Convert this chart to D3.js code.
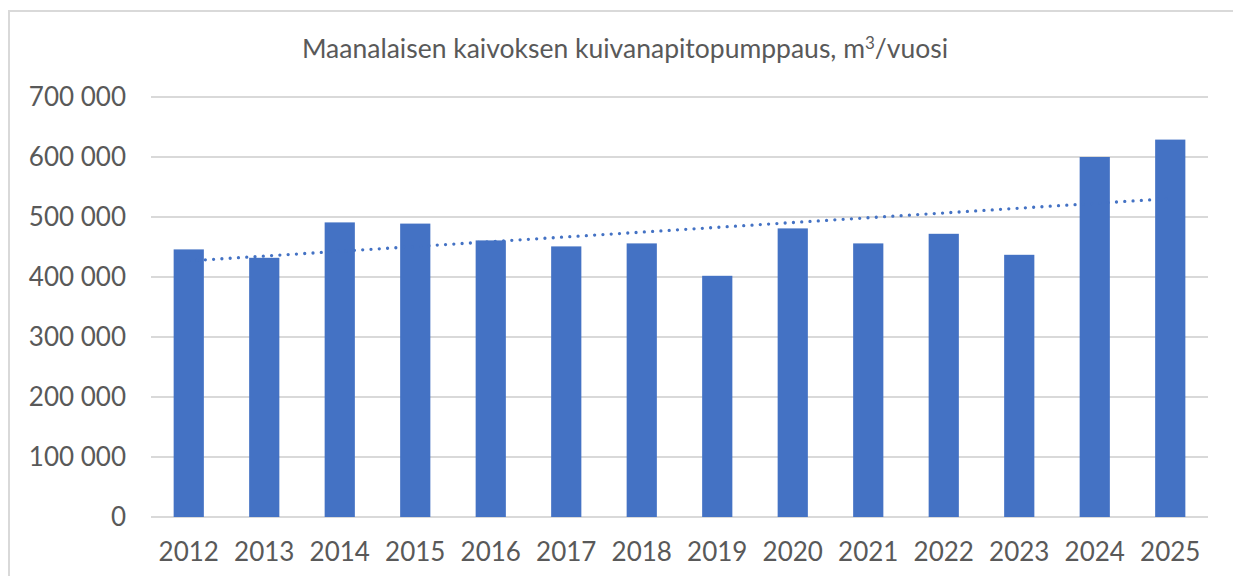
<!DOCTYPE html>
<html>
<head>
<meta charset="utf-8">
<script src="https://cdn.jsdelivr.net/npm/d3@7"></script>
<style>
  body { margin: 0; background: #fff; }
  text { font-family: Lato, "Open Sans", sans-serif; fill: #595959; }
</style>
</head>
<body>
<div id="chart-area"></div>
<script>
let years = ["2012", "2013", "2014", "2015", "2016", "2017", "2018", "2019", "2020", "2021", "2022", "2023", "2024", "2025"]
let pumping = [446000, 432000, 491000, 489000, 461000, 451000, 456000, 402000, 481000, 456000, 472000, 437000, 600000, 629000]
let yTicks = [0, 100000, 200000, 300000, 400000, 500000, 600000, 700000]

let width = 1233
let height = 576
let blue = "#4472C4"

let svg = d3.select("#chart-area")
  .append("svg")
    .attr("width", width)
    .attr("height", height)

// chart frame
svg.append("rect")
  .attr("x", 9)
  .attr("y", 11)
  .attr("width", width + 20)
  .attr("height", height + 20)
  .attr("fill", "none")
  .attr("stroke", "#d9d9d9")
  .attr("stroke-width", 2)

let x = d3.scaleBand().domain(years).range([151, 1208]).paddingInner(0.6).paddingOuter(0.3)
let y = d3.scaleLinear().domain([0, 700000]).range([517, 97])

let fmt = d => d3.format(",")(d).replace(/,/g, " ")

// gridlines
svg.append("g")
  .selectAll("line")
  .data(yTicks)
  .enter()
  .append("line")
    .attr("x1", 151)
    .attr("x2", 1208)
    .attr("y1", d => y(d))
    .attr("y2", d => y(d))
    .attr("stroke", "#d9d9d9")
    .attr("stroke-width", 2)

svg.append("g")
  .selectAll("text")
  .data(yTicks)
  .enter()
  .append("text")
    .attr("x", 126)
    .attr("y", d => y(d))
    .attr("dy", "0.36em")
    .attr("text-anchor", "end")
    .attr("font-size", "26px")
    .text(fmt)

svg.append("g")
  .selectAll("rect")
  .data(pumping)
  .enter()
  .append("rect")
    .attr("x", (d, i) => x(years[i]))
    .attr("y", d => y(d))
    .attr("width", x.bandwidth())
    .attr("height", d => y(0) - y(d))
    .attr("fill", blue)

// linear trendline (least squares)
let mx = d3.mean(pumping, (d, i) => i)
let my = d3.mean(pumping)
let slope = d3.sum(pumping, (d, i) => (i - mx) * (d - my)) / d3.sum(pumping, (d, i) => (i - mx) * (i - mx))
let icept = my - slope * mx
let trend = years.map((yr, i) => [x(yr) + x.bandwidth() / 2, y(icept + slope * i)])

svg.append("path")
  .attr("d", d3.line()(trend))
  .attr("fill", "none")
  .attr("stroke", blue)
  .attr("stroke-width", 3.3)
  .attr("stroke-linecap", "round")
  .attr("stroke-dasharray", "0 8.3")

svg.append("g")
  .selectAll("text")
  .data(years)
  .enter()
  .append("text")
    .attr("x", d => x(d) + x.bandwidth() / 2)
    .attr("y", 561)
    .attr("text-anchor", "middle")
    .attr("font-size", "26px")
    .text(d => d)

let title = svg.append("text")
  .attr("x", 625)
  .attr("y", 58)
  .attr("text-anchor", "middle")
  .attr("font-size", "26.5px")

title.append("tspan").text("Maanalaisen kaivoksen kuivanapitopumppaus, m")
title.append("tspan").attr("font-size", "17px").attr("dy", -9).text("3")
title.append("tspan").attr("dy", 9).text("/vuosi")
</script>
</body>
</html>
